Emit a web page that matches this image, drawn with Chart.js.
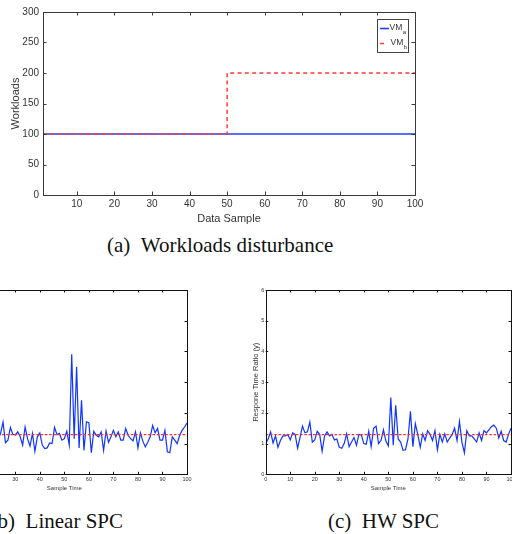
<!DOCTYPE html>
<html>
<head>
<meta charset="utf-8">
<script src="https://cdn.jsdelivr.net/npm/chart.js@4.4.0/dist/chart.umd.min.js"></script>
<style>
  html, body { margin: 0; padding: 0; background: #fff; }
  body { width: 512px; height: 534px; position: relative; overflow: hidden; }
  .panel { position: absolute; }
  .caption {
    position: absolute;
    font-family: "Liberation Serif", "Times New Roman", serif;
    font-size: 21px;
    line-height: 1;
    color: #111;
    white-space: nowrap;
  }
</style>
</head>
<body>
<div class="panel" style="left:0;top:0;width:430px;height:230px"><canvas id="chartA"></canvas></div>
<div class="caption" style="left:107px;top:235px">(a)&ensp;Workloads disturbance</div>
<div class="panel" style="left:-74px;top:280px;width:272px;height:215px"><canvas id="chartB"></canvas></div>
<div class="caption" style="right:389px;top:511px">(b)&ensp;Linear SPC</div>
<div class="panel" style="left:250px;top:280px;width:262px;height:215px"><canvas id="chartC"></canvas></div>
<div class="caption" style="left:328px;top:511px">(c)&ensp;HW SPC</div>

<script>
// (a) workloads disturbance
const sampleA = [1, 100];
const vmA = [100, 100];
const sampleB = [1, 50, 50, 100];
const vmB = [100, 100, 200, 200];
const xTicksA = [10, 20, 30, 40, 50, 60, 70, 80, 90, 100];
const yTicksA = [0, 50, 100, 150, 200, 250, 300];

// (b) linear SPC and (c) HW SPC, response time ratio per sample (0..100)
const linearSpc = [
  1.05, 1.30, 1.12, 0.95, 1.40, 1.18, 1.25, 0.88, 1.35, 1.10,
  1.22, 1.45, 1.02, 1.28, 1.15, 0.92, 1.38, 1.20, 1.08, 1.50,
  1.25, 0.98, 1.32, 1.12, 1.33, 1.70, 1.03, 1.11, 1.52, 1.30,
  1.28, 1.38, 1.22, 0.95, 1.54, 1.16, 0.92, 1.33, 0.75, 1.22,
  1.35, 0.95, 0.84, 0.86, 1.02, 1.00, 1.53, 1.29, 1.33, 1.11,
  1.16, 1.40, 0.95, 3.91, 1.16, 3.50, 0.86, 2.41, 0.78, 1.71,
  1.68, 0.70, 1.40, 1.27, 1.22, 1.38, 0.78, 1.41, 1.04, 1.22,
  1.43, 1.22, 1.38, 1.11, 1.11, 1.49, 1.27, 1.16, 1.09, 1.38,
  0.86, 1.35, 1.08, 0.89, 1.04, 1.22, 1.59, 1.35, 1.49, 1.11,
  1.11, 1.43, 0.73, 0.70, 1.22, 1.11, 1.00, 1.27, 1.43, 1.54,
  1.67
];
const hwSpc = [
  1.00, 1.15, 1.38, 1.02, 1.25, 0.88, 1.10, 1.25, 1.25, 1.30,
  1.12, 1.35, 1.30, 0.85, 1.20, 1.57, 1.35, 1.38, 1.70, 1.05,
  1.12, 1.40, 1.30, 0.75, 1.25, 1.38, 1.25, 1.30, 1.12, 1.15,
  0.88, 0.85, 1.00, 1.32, 0.90, 1.05, 1.20, 0.95, 1.30, 1.28,
  1.00, 0.98, 1.40, 0.90, 1.50, 1.57, 1.00, 1.10, 1.45, 1.08,
  0.92, 2.50, 0.95, 2.25, 1.15, 1.05, 0.78, 0.80, 1.15, 2.05,
  0.90, 1.65, 1.30, 0.88, 1.32, 1.10, 1.42, 1.30, 1.10, 1.42,
  0.80, 1.30, 1.05, 1.32, 1.05, 1.18, 1.30, 1.50, 1.10, 1.72,
  1.05, 0.70, 1.42, 1.25, 1.25, 1.15, 1.05, 1.35, 1.10, 1.42,
  1.35, 1.45, 1.55, 1.60, 1.50, 1.18, 1.40, 1.10, 1.05, 1.30,
  1.50
];
const controlLimit = 1.29;
const limitX = [0, 100];
const xTicksSpc = [0, 10, 20, 30, 40, 50, 60, 70, 80, 90, 100];
const yTicksSpc = [0, 1, 2, 3, 4, 5, 6];

const toPoints = (xs, ys) => xs.map((x, i) => ({ x: x, y: ys[i] }));
const fixedTicks = (list) => (scale) => { scale.ticks = list.map(v => ({ value: v })); };
const noGrid = { display: false, drawTicks: false };
// fixed axis size, and no extra room for labels hanging over the ends
const fixHeight = (h) => (s) => { s.height = h; s.paddingLeft = 0; s.paddingRight = 0; };
const fixWidth = (w) => (s) => { s.width = w; s.paddingTop = 0; s.paddingBottom = 0; };

// Box around the plot with inward tick marks on all four sides
const boxTicks = {
  id: 'boxTicks',
  afterDatasetsDraw(chart, args, opts) {
    const { ctx, chartArea: a, scales: { x, y } } = chart;
    ctx.save();
    ctx.strokeStyle = opts.color;
    ctx.lineWidth = opts.width;
    ctx.beginPath();
    x.ticks.forEach(t => {
      const px = Math.round(x.getPixelForValue(t.value)) + 0.5;
      ctx.moveTo(px, a.bottom); ctx.lineTo(px, a.bottom - opts.len);
      ctx.moveTo(px, a.top); ctx.lineTo(px, a.top + opts.len);
    });
    y.ticks.forEach(t => {
      const py = Math.round(y.getPixelForValue(t.value)) + 0.5;
      ctx.moveTo(a.left, py); ctx.lineTo(a.left + opts.len, py);
      ctx.moveTo(a.right, py); ctx.lineTo(a.right - opts.len, py);
    });
    ctx.stroke();
    ctx.strokeRect(Math.round(a.left) + 0.5, Math.round(a.top) + 0.5,
      Math.round(a.width), Math.round(a.height));
    ctx.restore();
  }
};

// MATLAB-style legend with subscripts for chart (a)
const vmLegend = {
  id: 'vmLegend',
  afterDraw(chart) {
    const { ctx, chartArea: a } = chart;
    const bx = Math.round(a.right - 38) + 0.5, by = Math.round(a.top + 7) + 0.5;
    ctx.save();
    ctx.fillStyle = '#fff';
    ctx.fillRect(bx, by, 31, 33);
    ctx.strokeStyle = '#444';
    ctx.lineWidth = 1;
    ctx.strokeRect(bx, by, 31, 33);
    chart.data.datasets.forEach((ds, i) => {
      const ly = by + 9 + i * 15;
      ctx.strokeStyle = ds.borderColor;
      ctx.lineWidth = ds.borderWidth;
      ctx.beginPath();
      ctx.moveTo(bx + 2.5, ly);
      ctx.lineTo(bx + (ds.borderDash ? 6.5 : 11.5), ly);
      ctx.stroke();
      ctx.fillStyle = '#333';
      ctx.textBaseline = 'middle';
      ctx.font = '8.5px "Liberation Sans", Arial, sans-serif';
      const tx = bx + (ds.borderDash ? 13 : 12);
      ctx.fillText('VM', tx, ly - 1);
      const w = ctx.measureText('VM').width;
      ctx.font = '6px "Liberation Sans", Arial, sans-serif';
      ctx.fillText(ds.sub, tx + w + 0.5, ly + 4);
    });
    ctx.restore();
  }
};

new Chart(document.getElementById('chartA'), {
  type: 'line',
  data: {
    datasets: [
      { label: 'VMa', sub: 'a', data: toPoints(sampleA, vmA), borderColor: '#2040ff',
        borderWidth: 1.6, pointRadius: 0, order: 2 },
      { label: 'VMb', sub: 'b', data: toPoints(sampleB, vmB), borderColor: '#ff3b30',
        borderWidth: 1.5, borderDash: [4, 3.3], pointRadius: 0, order: 1 }
    ]
  },
  options: {
    responsive: true,
    maintainAspectRatio: false,
    animation: false,
    layout: { autoPadding: false, padding: { top: 12, right: 15, left: 0, bottom: 0 } },
    plugins: {
      legend: { display: false },
      tooltip: { enabled: false },
      boxTicks: { color: '#3a3a3a', width: 1, len: 3.5 }
    },
    scales: {
      x: {
        type: 'linear', min: 1, max: 100,
        afterBuildTicks: fixedTicks(xTicksA),
        afterFit: fixHeight(35),
        grid: noGrid, border: { display: false },
        ticks: { color: '#333', padding: 3, maxRotation: 0,
          font: { family: '"Liberation Sans", Arial, sans-serif', size: 10 } },
        title: { display: true, text: 'Data Sample', color: '#333', padding: { top: 0, bottom: 4.5 },
          font: { family: '"Liberation Sans", Arial, sans-serif', size: 11 } }
      },
      y: {
        min: 0, max: 300,
        afterBuildTicks: fixedTicks(yTicksA),
        afterFit: fixWidth(43),
        grid: noGrid, border: { display: false },
        ticks: { color: '#333', padding: 4,
          font: { family: '"Liberation Sans", Arial, sans-serif', size: 10 } },
        title: { display: true, text: 'Workloads', color: '#333', padding: { top: 9.5, bottom: 0 },
          font: { family: '"Liberation Sans", Arial, sans-serif', size: 11 } }
      }
    }
  },
  plugins: [boxTicks, vmLegend]
});

function drawSpc(id, values, padRight) {
  const sampleTime = values.map((v, i) => i);
  new Chart(document.getElementById(id), {
    type: 'line',
    data: {
      datasets: [
        { data: toPoints(sampleTime, values), borderColor: '#1034ff', borderWidth: 1.2,
          pointRadius: 0, order: 2 },
        { data: toPoints(limitX, limitX.map(() => controlLimit)), borderColor: '#ff2a2a',
          borderWidth: 1.3, borderDash: [2.5, 1.8], pointRadius: 0, order: 1 }
      ]
    },
    options: {
      responsive: true,
      maintainAspectRatio: false,
      animation: false,
      layout: { autoPadding: false, padding: { top: 10, right: padRight, left: 0, bottom: 0 } },
      plugins: {
        legend: { display: false },
        tooltip: { enabled: false },
        boxTicks: { color: '#111', width: 1, len: 2.5 }
      },
      scales: {
        x: {
          type: 'linear', min: 0, max: 100,
          afterBuildTicks: fixedTicks(xTicksSpc),
          afterFit: fixHeight(20.7),
          grid: noGrid, border: { display: false },
          ticks: { color: '#333', padding: 2, maxRotation: 0,
            font: { family: '"Liberation Sans", Arial, sans-serif', size: 5.5 } },
          title: { display: true, text: 'Sample Time', color: '#333', padding: { top: 0, bottom: 3.4 },
            font: { family: '"Liberation Sans", Arial, sans-serif', size: 6 } }
        },
        y: {
          min: 0, max: 6,
          afterBuildTicks: fixedTicks(yTicksSpc),
          afterFit: fixWidth(15.7),
          grid: noGrid, border: { display: false },
          ticks: { color: '#333', padding: 1.3,
            font: { family: '"Liberation Sans", Arial, sans-serif', size: 5.5 } },
          title: { display: true, text: 'Respone Time Ratio (y)', color: '#333', padding: { top: 1.5, bottom: 0 },
            font: { family: '"Liberation Sans", Arial, sans-serif', size: 7.5 } }
        }
      }
    },
    plugins: [boxTicks]
  });
}

drawSpc('chartB', linearSpc, 11);
drawSpc('chartC', hwSpc, 1);
</script>
</body>
</html>
